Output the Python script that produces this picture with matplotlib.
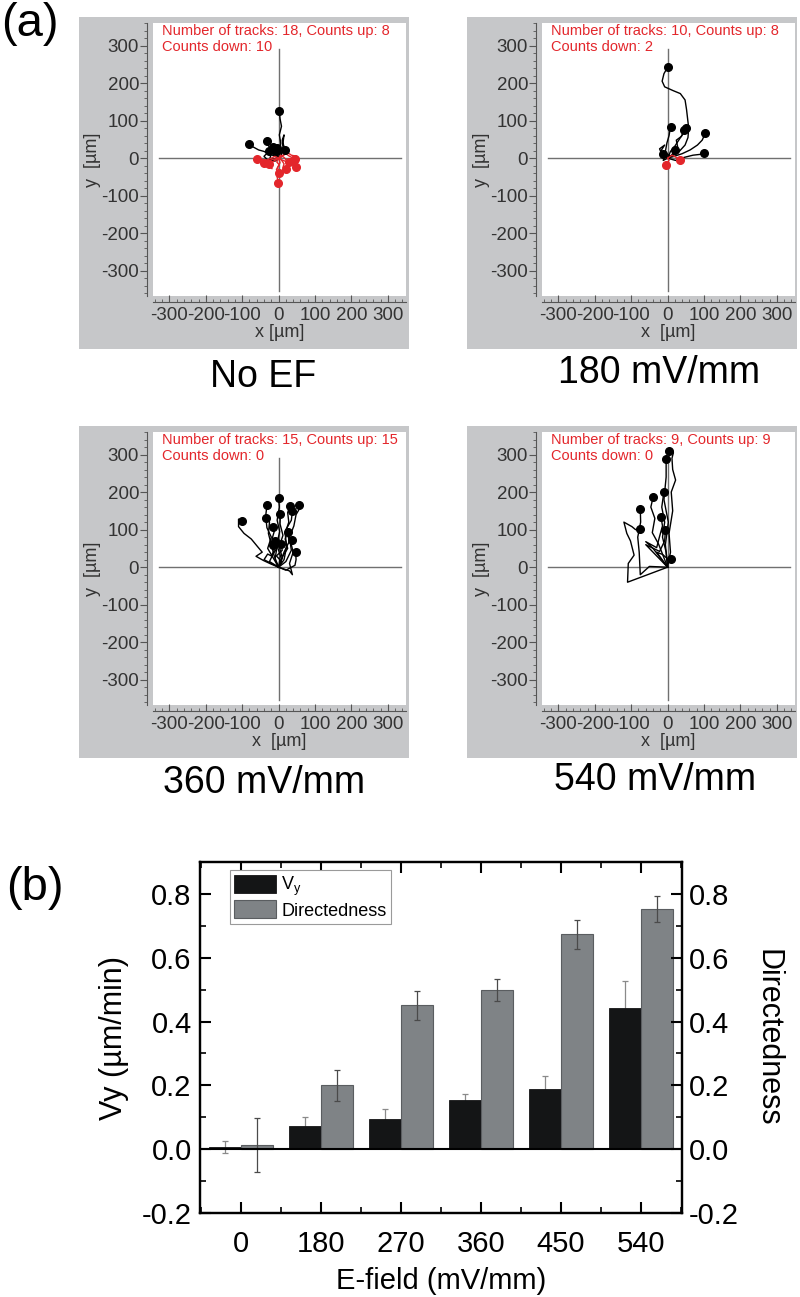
import numpy as np
import matplotlib
matplotlib.use("Agg")
import matplotlib.pyplot as plt
from matplotlib.patches import Rectangle
from matplotlib.ticker import MultipleLocator, AutoMinorLocator, FormatStrFormatter

plt.rcParams['font.family'] = ['Liberation Sans', 'DejaVu Sans']
plt.rcParams['axes.unicode_minus'] = False

# ---- panel (a): cell tracks, every track starts at (0, 0) ----
NOEF_UP = [
    [(0, 0), (3, 18), (6, 40), (2, 62), (8, 85), (4, 105), (2, 126)],
    [(0, 0), (-12, 6), (-28, 12), (-40, 18), (-55, 22), (-70, 30), (-80, 37)],
    [(0, 0), (-8, 10), (-18, 18), (-25, 28), (-30, 38), (-33, 47)],
    [(0, 0), (-10, -8), (-25, -4), (-20, 12), (-16, 31)],
    [(0, 0), (8, 12), (12, 30), (10, 48), (15, 62), (12, 40), (18, 22)],
    [(0, 0), (-5, 15), (-12, 8), (-20, 20), (-8, 18)],
    [(0, 0), (-30, -5), (-40, 5), (-30, 15), (-25, 20)],
    [(0, 0), (10, 5), (5, 15), (-3, 22), (-5, 28)],
]
NOEF_DOWN = [
    [(0, 0), (-15, -3), (-30, -8), (-45, -4), (-59, -2)],
    [(0, 0), (4, -12), (-3, -25), (2, -38), (-4, -50), (-1, -65)],
    [(0, 0), (12, -6), (25, -10), (38, -18), (49, -24)],
    [(0, 0), (10, 5), (20, 12), (30, 5), (45, -2)],
    [(0, 0), (-5, -10), (2, -18), (-6, -30), (0, -40)],
    [(0, 0), (8, -5), (15, -15), (12, -25), (20, -30)],
    [(0, 0), (-20, -12), (-28, -20), (-18, -28), (-25, -15)],
    [(0, 0), (15, 10), (25, 15), (35, 8), (50, 5), (42, -5)],
    [(0, 0), (-10, 5), (-20, 0), (-35, -6), (-40, -12)],
    [(0, 0), (5, 8), (15, 2), (22, -6), (28, -10)],
]
EF180_UP = [
    [(0, 0), (15, 8), (32, 18), (48, 35), (56, 55), (58, 80), (55, 105), (52, 130),
     (48, 155), (35, 172), (15, 180), (-8, 190), (-15, 205), (-10, 225), (0, 242)],
    [(0, 0), (18, 5), (40, 12), (62, 22), (82, 35), (95, 48), (104, 67)],
    [(0, 0), (22, -6), (45, 2), (70, 8), (88, 10), (101, 13)],
    [(0, 0), (8, 18), (20, 32), (32, 50), (40, 62), (46, 75)],
    [(0, 0), (-6, 18), (-2, 40), (4, 60), (8, 83)],
    [(0, 0), (-15, 8), (-22, 25), (-8, 35), (-18, 20), (-12, 12)],
    [(0, 0), (18, 12), (28, 28), (24, 48), (38, 58), (50, 80)],
    [(0, 0), (-12, -6), (-6, 12), (10, 6), (20, 22)],
]
EF180_DOWN = [
    [(0, 0), (4, -6), (-4, -18)],
    [(0, 0), (12, 8), (24, 2), (35, -5)],
]
EF360_UP = [
    [(0, 0), (-20, 8), (-42, 18), (-62, 29), (-45, 40), (-58, 55), (-75, 75),
     (-95, 90), (-110, 108), (-110, 128), (-101, 124)],
    [(0, 0), (-12, 30), (-20, 60), (-28, 90), (-25, 120), (-35, 140), (-32, 165)],
    [(0, 0), (-15, 25), (-30, 50), (-20, 80), (-32, 105), (-35, 131)],
    [(0, 0), (5, 30), (-5, 60), (3, 95), (-4, 125), (2, 160), (0, 184)],
    [(0, 0), (10, 25), (2, 55), (12, 85), (4, 115), (5, 142)],
    [(0, 0), (15, 20), (22, 55), (18, 90), (28, 120), (25, 145), (30, 163)],
    [(0, 0), (20, 15), (35, 45), (30, 80), (42, 110), (48, 140), (60, 160), (55, 165)],
    [(0, 0), (30, -10), (38, -20), (30, 10), (40, 40), (35, 60), (38, 73)],
    [(0, 0), (20, -8), (45, 5), (48, 20), (47, 40)],
    [(0, 0), (-10, 20), (-5, 50), (-18, 75), (-12, 95), (-16, 106)],
    [(0, 0), (12, 30), (25, 50), (18, 75), (25, 95)],
    [(0, 0), (-25, 15), (-15, 35), (-5, 50), (-10, 70)],
    [(0, 0), (8, 15), (-6, 30), (10, 45), (6, 62)],
    [(0, 0), (-40, 20), (-30, 35), (-20, 30), (-12, 45), (-15, 58)],
    [(0, 0), (15, 40), (30, 70), (20, 100), (35, 125), (38, 150)],
]
EF540_UP = [
    [(0, 0), (8, 40), (4, 90), (14, 150), (10, 200), (22, 232), (14, 260), (12, 290),
     (16, 305), (3, 309)],
    [(0, 0), (-6, 60), (2, 120), (-10, 180), (-4, 240), (-4, 287)],
    [(0, 0), (-110, -40), (-108, 10), (-92, 32), (-102, 70), (-112, 90), (-120, 120),
     (-98, 108), (-88, 100), (-75, 101)],
    [(0, 0), (-50, 2), (-75, -20), (-78, 40), (-82, 80), (-74, 120), (-75, 155)],
    [(0, 0), (-40, 50), (-60, 68), (-30, 52), (-22, 82), (-14, 110), (-18, 133)],
    [(0, 0), (-12, 30), (-25, 62), (-42, 92), (-35, 130), (-46, 160), (-40, 186)],
    [(0, 0), (-4, 40), (-14, 80), (-8, 120), (-16, 160), (-10, 201)],
    [(0, 0), (-60, 60), (-22, 42), (-8, 70), (-6, 98)],
    [(0, 0), (-30, 40), (-14, 34), (10, 14), (8, 22)],
]

PANEL_TITLES = ["No EF", "180 mV/mm", "360 mV/mm", "540 mV/mm"]
PANEL_INFO = ["Number of tracks: 18, Counts up: 8\nCounts down: 10",
              "Number of tracks: 10, Counts up: 8\nCounts down: 2",
              "Number of tracks: 15, Counts up: 15\nCounts down: 0",
              "Number of tracks: 9, Counts up: 9\nCounts down: 0"]
PANEL_UP = [NOEF_UP, EF180_UP, EF360_UP, EF540_UP]
PANEL_DOWN = [NOEF_DOWN, EF180_DOWN, [], []]

# ---- panel (b): bar chart ----
efield = ["0", "180", "270", "360", "450", "540"]
vy = [0.007, 0.074, 0.094, 0.154, 0.189, 0.444]
vy_err = [0.020, 0.028, 0.033, 0.020, 0.040, 0.082]
directedness = [0.013, 0.200, 0.451, 0.499, 0.673, 0.753]
dir_err = [0.084, 0.049, 0.045, 0.034, 0.046, 0.040]

W, H = 800, 1297
RED = '#e3262b'
GREY_BG = '#c6c7c9'

fig = plt.figure(figsize=(W / 100, H / 100), dpi=100)


def fx(px):
    return px / W


def fy(px):
    return 1 - px / H


def draw_tracks(ax, tracks, color):
    for tr in tracks:
        arr = np.array(tr, dtype=float)
        ax.plot(arr[:, 0], arr[:, 1], color=color, lw=1.0, zorder=3)
        ax.plot(arr[-1, 0], arr[-1, 1], 'o', color=color, ms=5.5, zorder=4)


# (left px of grey box, top px of grey box, left px of white area, title centre x, title centre y)
boxes = [(79, 17, 153, 263, 377), (467, 17, 542, 659, 373),
         (79, 426, 153, 264, 783), (467, 426, 542, 655, 780)]

for i, (gx, gy, wx, tx, ty) in enumerate(boxes):
    fig.add_artist(Rectangle((fx(gx), fy(gy + 332)), 330 / W, 332 / H,
                             transform=fig.transFigure, facecolor=GREY_BG,
                             edgecolor='none', zorder=-1))
    ax = fig.add_axes([fx(wx), fy(gy + 279), 253 / W, 273 / H])
    ax.set_facecolor('white')
    ax.set_xlim(-345, 350)
    ax.set_ylim(-367, 360)
    for s in ['top', 'right']:
        ax.spines[s].set_visible(False)
    for s in ['left', 'bottom']:
        ax.spines[s].set_position(('outward', 4))
        ax.spines[s].set_color('#555555')
        ax.spines[s].set_linewidth(0.8)
    ax.xaxis.set_major_locator(MultipleLocator(100))
    ax.xaxis.set_minor_locator(MultipleLocator(20))
    ax.yaxis.set_major_locator(MultipleLocator(100))
    ax.yaxis.set_minor_locator(MultipleLocator(20))
    ax.tick_params(which='major', length=5, width=0.8, color='#555555',
                   labelsize=13.5, labelcolor='#333333', pad=1)
    ax.tick_params(which='minor', length=2.5, width=0.6, color='#555555')
    ax.tick_params(axis='x', which='both', direction='in', pad=4)
    ax.set_xlabel("x [µm]" if i == 0 else "x  [µm]", fontsize=13, color='#333333', labelpad=0)
    ax.set_ylabel("y  [µm]", fontsize=13, color='#333333', labelpad=0)

    ax.axhline(0, xmin=0.022, xmax=0.98, color='#707070', lw=1.0, zorder=2)
    ax.axvline(0, ymin=0.017, ymax=0.905, color='#707070', lw=1.0, zorder=2)

    draw_tracks(ax, PANEL_UP[i], 'black')
    draw_tracks(ax, PANEL_DOWN[i], RED)

    ax.text(0.035, 0.995, PANEL_INFO[i], transform=ax.transAxes, ha='left', va='top',
            color=RED, fontsize=10.5, linespacing=1.15)

    fig.text(fx(tx), fy(ty), PANEL_TITLES[i], ha='center', va='center', fontsize=27)

fig.text(fx(30), fy(24), "(a)", ha='center', va='center', fontsize=34)
fig.text(fx(35), fy(888), "(b)", ha='center', va='center', fontsize=34)

# ---- panel (b) ----
axb = fig.add_axes([fx(200), fy(1213), 482 / W, 351 / H])
x = np.arange(len(efield))
axb.errorbar(x - 0.2, vy, yerr=vy_err, fmt='none', ecolor='#8a8a8a', elinewidth=0.9,
             capsize=2.5, capthick=0.9, zorder=1)
axb.bar(x - 0.2, vy, 0.4, color='#141516', edgecolor='#141516', lw=0.6,
        label=r'V$_\mathregular{y}$', zorder=2)
axb.bar(x + 0.2, directedness, 0.4, color='#7f8386', edgecolor='#5a5d60', lw=0.8,
        label='Directedness', zorder=2)
axb.errorbar(x + 0.2, directedness, yerr=dir_err, fmt='none', ecolor='#4a4a4a',
             elinewidth=0.9, capsize=2.5, capthick=0.9, zorder=3)
axb.axhline(0, color='black', lw=1.5, zorder=4)

axb.set_xlim(-0.51, 5.51)
axb.set_ylim(-0.2, 0.9)
axb.set_xticks(x)
axb.set_xticklabels(efield)
axb.xaxis.set_minor_locator(MultipleLocator(1, offset=0.5))
axb.yaxis.set_major_locator(MultipleLocator(0.2))
axb.yaxis.set_minor_locator(AutoMinorLocator(2))
axb.yaxis.set_major_formatter(FormatStrFormatter('%.1f'))
for s in axb.spines.values():
    s.set_linewidth(1.6)
axb.tick_params(which='major', direction='in', length=8, width=1.5, labelsize=21,
                top=True, right=False)
axb.tick_params(which='minor', direction='in', length=4, width=1.2, top=True, right=False)
axb.tick_params(axis='x', pad=12)
axb.tick_params(axis='y', pad=6)
axb.set_xlabel("E-field (mV/mm)", fontsize=21, labelpad=7)
axb.set_ylabel("Vy (µm/min)", fontsize=22, labelpad=9)

ax2 = axb.twinx()
ax2.set_ylim(axb.get_ylim())
ax2.yaxis.set_major_locator(MultipleLocator(0.2))
ax2.yaxis.set_minor_locator(AutoMinorLocator(2))
ax2.yaxis.set_major_formatter(FormatStrFormatter('%.1f'))
ax2.tick_params(which='major', direction='in', length=8, width=1.5, labelsize=21, pad=5)
ax2.tick_params(which='minor', direction='in', length=4, width=1.2)
ax2.set_ylabel("Directedness", fontsize=22, rotation=270, va='bottom', labelpad=10)
for s in ax2.spines.values():
    s.set_linewidth(1.6)

leg = axb.legend(loc='upper left', bbox_to_anchor=(0.062, 0.977), fontsize=13,
                 handlelength=2.3, handleheight=1.15, borderpad=0.25, labelspacing=0.15,
                 handletextpad=0.3, fancybox=False, edgecolor='#9a9a9a', framealpha=1,
                 borderaxespad=0)
leg.get_frame().set_linewidth(0.8)

fig.savefig("out.png", dpi=100)
